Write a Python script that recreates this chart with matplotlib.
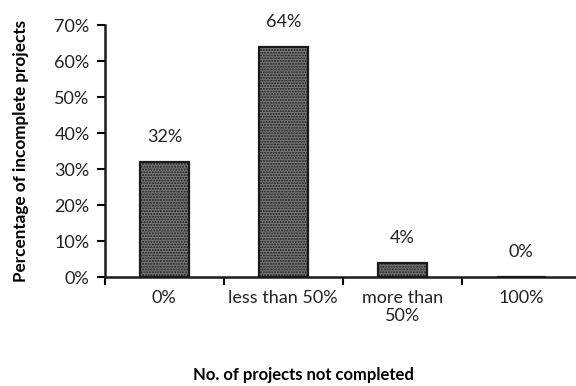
import numpy as np
import matplotlib.pyplot as plt

plt.rcParams['font.family'] = ['Lato', 'DejaVu Sans']

categories = ['0%', 'less than 50%', 'more than\n50%', '100%']
values = [32, 64, 4, 0]
labels = ['32%', '64%', '4%', '0%']

fig = plt.figure(figsize=(5.76, 3.86), dpi=100)
ax = fig.add_axes([0.182, 0.282, 0.818, 0.653])

x = np.arange(len(categories))
ax.bar(x, values, width=0.41, color='#7a7a7a', edgecolor='#1a1a1a',
       linewidth=1.6, hatch='......', zorder=2)

for xi, v, lab in zip(x, values, labels):
    ax.annotate(lab, (xi, v), xytext=(0, 12), textcoords='offset points',
                ha='center', va='bottom', fontsize=13, color='#222222')

ax.set_xlim(-0.5, 3.46)
ax.set_ylim(0, 70)
ax.set_yticks(range(0, 71, 10))
ax.set_yticklabels([f'{t}%' for t in range(0, 71, 10)])
ax.set_xticks([-0.5, 0.5, 1.5, 2.5])
ax.set_xticklabels([])
ax.set_xticks(x, minor=True)
ax.set_xticklabels(categories, minor=True)
ax.tick_params(axis='x', which='minor', length=0, pad=9, labelsize=13,
               labelcolor='#222222')
ax.tick_params(axis='x', which='major', length=6, width=1.5, direction='out')
ax.tick_params(axis='y', length=6, width=1.5, direction='out', labelsize=13,
               labelcolor='#222222', pad=5)

for side in ['top', 'right']:
    ax.spines[side].set_visible(False)
for side in ['left', 'bottom']:
    ax.spines[side].set_linewidth(1.8)
    ax.spines[side].set_color('#1a1a1a')

ax.set_ylabel('Percentage of incomplete projects', fontsize=12.3,
              fontweight='bold')
ax.yaxis.set_label_coords(-0.16, 0.5)
fig.text(303 / 576, 1 - 375 / 386, 'No. of projects not completed',
         ha='center', va='center', fontsize=12, fontweight='bold')

fig.savefig('out.png', dpi=100)
